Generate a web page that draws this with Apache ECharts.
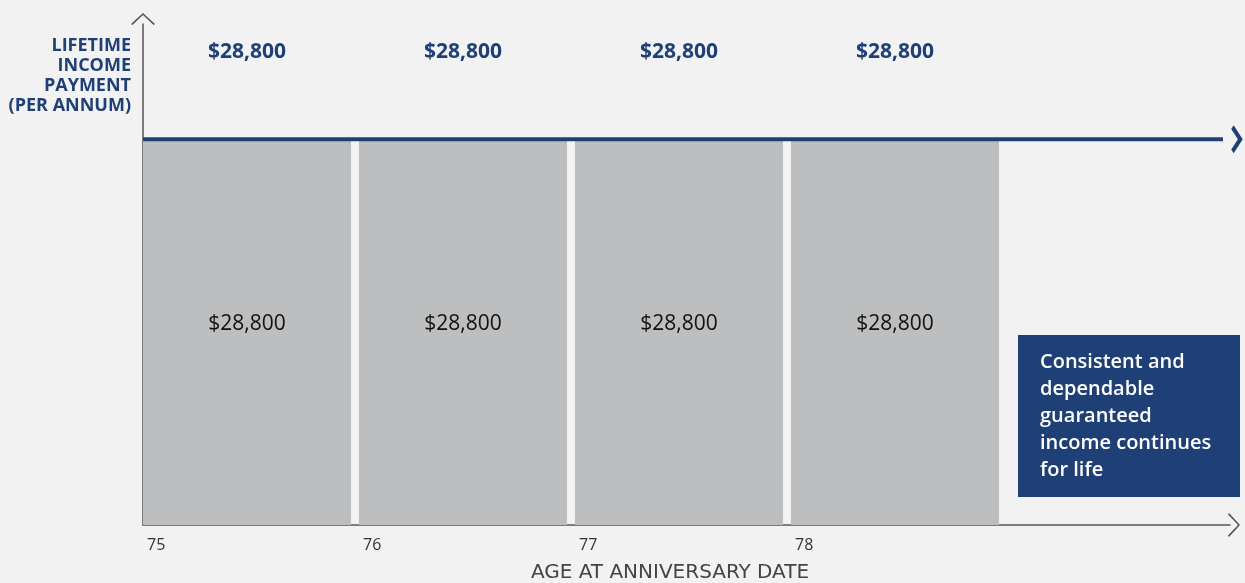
<!DOCTYPE html>
<html>
<head>
<meta charset="utf-8">
<style>
  html, body { margin: 0; padding: 0; background: #f2f2f2; }
  #chart { width: 1245px; height: 583px; }
</style>
<script src="https://cdn.jsdelivr.net/npm/echarts@6/dist/echarts.min.js"></script>
</head>
<body>
<div id="chart"></div>
<script>
// ---- data ----
const ages = [75, 76, 77, 78];
const payments = [28800, 28800, 28800, 28800];
const tickLabels = ['75', '76', '77', '78'];
const lineStart = 75;
const lineEnd = 80;
const yMax = 37400;
const yAxisTitle = 'LIFETIME\nINCOME\nPAYMENT\n(PER ANNUM)';
const xAxisTitle = 'AGE AT ANNIVERSARY DATE';
const noteText = 'Consistent and\ndependable\nguaranteed\nincome continues\nfor life';

const NAVY = '#1f4077';
const FONT = '"Open Sans", "Noto Sans", sans-serif';
const fmt = v => '$' + v.toLocaleString('en-US');

const chart = echarts.init(document.getElementById('chart'), null, { renderer: 'canvas' });

const upChevron = 'path://M0,11 L12,0 L24,11 L22.6,12 L12,2 L1.4,12 Z';
const rightChevron = 'path://M0,3.4 L3.4,0 L16,12.5 L3.4,25 L0,21.6 L9.2,12.5 Z';

const option = {
  backgroundColor: '#f2f2f2',
  animation: false,
  grid: { left: 143, right: 15, top: 24, bottom: 58 },
  xAxis: {
    type: 'value',
    min: 75,
    max: 75 + 1087 / 216,
    interval: 1,
    axisLine: {
      show: true,
      lineStyle: { color: '#555', width: 1.5 },
      symbol: ['none', upChevron],
      symbolSize: [24, 12],
      symbolOffset: [0, 4]
    },
    axisTick: { show: false },
    splitLine: { show: false },
    axisLabel: {
      show: true,
      align: 'left',
      padding: [0, 0, 0, 4],
      margin: 12,
      color: '#333',
      fontSize: 16,
      fontFamily: FONT,
      formatter: v => {
        const i = ages.indexOf(Math.round(v * 1000) / 1000);
        return i >= 0 ? tickLabels[i] : '';
      }
    }
  },
  yAxis: {
    type: 'value',
    min: 0,
    max: yMax,
    axisLine: {
      show: true,
      lineStyle: { color: '#555', width: 1.5 },
      symbol: ['none', upChevron],
      symbolSize: [24, 12],
      symbolOffset: [0, 5]
    },
    axisTick: { show: false },
    axisLabel: { show: false },
    splitLine: { show: false }
  },
  series: [
    {
      type: 'custom',
      data: ages.map((a, i) => [a, payments[i]]),
      z: 2,
      renderItem: function (params, api) {
        const x = api.value(0), v = api.value(1);
        const p0 = api.coord([x, v]);
        const p1 = api.coord([x + 1, 0]);
        const gap = 8;
        const w = p1[0] - p0[0] - gap;
        const h = p1[1] - p0[1];
        return {
          type: 'group',
          children: [
            { type: 'rect', shape: { x: p0[0], y: p0[1], width: w, height: h }, style: { fill: '#bdbec0' } },
            { type: 'text', style: { text: fmt(v), x: p0[0] + w / 2, y: p0[1] + h / 2 - 8, align: 'center', verticalAlign: 'middle', fill: '#111', font: '400 21px ' + FONT } },
            { type: 'text', style: { text: fmt(v), x: p0[0] + w / 2, y: p0[1] - 87, align: 'center', verticalAlign: 'middle', fill: NAVY, font: '700 21px ' + FONT } }
          ]
        };
      }
    },
    {
      type: 'line',
      z: 3,
      data: [
        { value: [lineStart, payments[0]], symbol: 'none' },
        { value: [lineEnd, payments[payments.length - 1]], symbol: rightChevron, symbolSize: [18, 28], symbolOffset: [14, 0], symbolKeepAspect: true }
      ],
      lineStyle: { color: NAVY, width: 4 },
      itemStyle: { color: NAVY },
      showSymbol: true,
      silent: true
    }
  ],
  graphic: [
    {
      type: 'text',
      x: 131,
      y: 36,
      style: { text: yAxisTitle, align: 'right', verticalAlign: 'top', fill: NAVY, font: '700 18px ' + FONT, lineHeight: 20 }
    },
    {
      type: 'text',
      x: 670,
      y: 563,
      style: { text: xAxisTitle, fill: '#444', font: '500 20px "DejaVu Sans", sans-serif', align: 'center', verticalAlign: 'top' }
    },
    {
      type: 'group',
      x: 1018,
      y: 335,
      children: [
        { type: 'rect', shape: { x: 0, y: 0, width: 222, height: 162 }, style: { fill: NAVY } },
        { type: 'text', x: 22, y: 14, style: { text: noteText, fill: '#ffffff', font: '600 20px ' + FONT, lineHeight: 27 } }
      ]
    }
  ]
};
chart.setOption(option);
</script>
</body>
</html>
